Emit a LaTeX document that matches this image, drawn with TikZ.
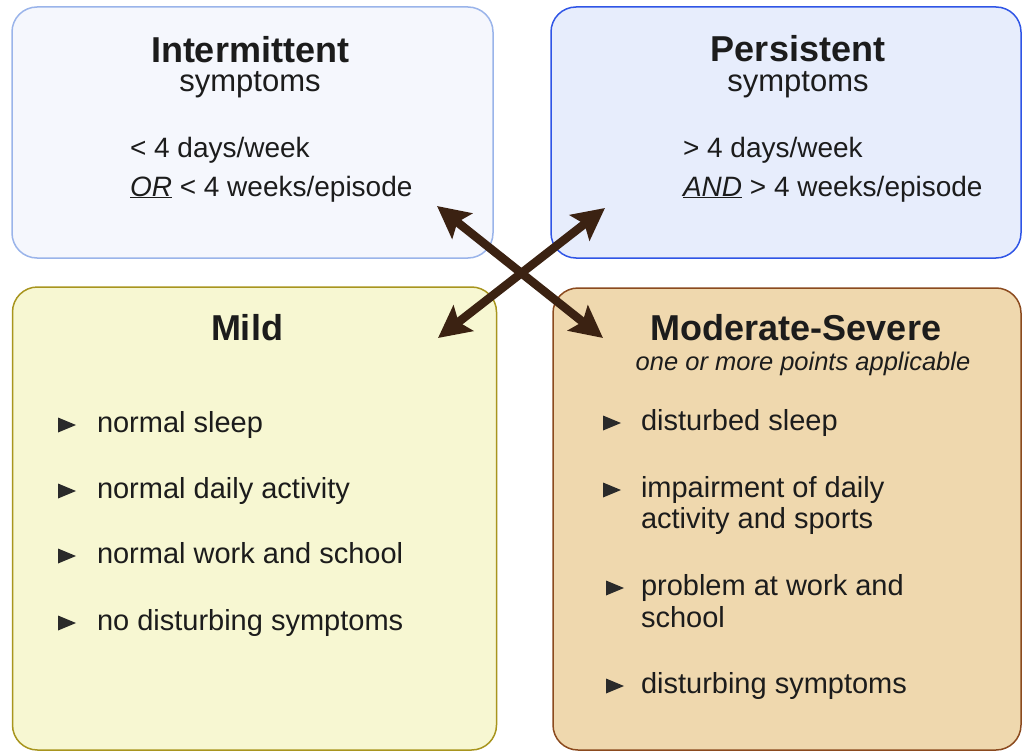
\documentclass[tikz,border=0pt]{standalone}
\usepackage{fontspec}
\setmainfont{Liberation Sans}
\usetikzlibrary{arrows.meta}

\definecolor{intfill}{HTML}{F5F7FD}
\definecolor{intline}{HTML}{9AB4EA}
\definecolor{perfill}{HTML}{E7EDFC}
\definecolor{perline}{HTML}{2F55E6}
\definecolor{mildfill}{HTML}{F7F7D2}
\definecolor{mildline}{HTML}{A8951E}
\definecolor{sevfill}{HTML}{EFD8AE}
\definecolor{sevline}{HTML}{8B4A1E}
\definecolor{arrowc}{HTML}{3B2212}
\definecolor{inkc}{HTML}{1C1C1C}
\definecolor{bulc}{HTML}{2A2A2A}

% small right-pointing bullet triangle centred at (#1,#2)
\newcommand\tribul[2]{\fill[bulc] (#1-8,#2-7.5) -- (#1+10,#2) -- (#1-8,#2+7.5) -- cycle;}

\begin{document}
\begin{tikzpicture}[x=1pt,y=-1pt,
  panel/.style={draw, line width=1.5pt, rounded corners=25pt, inner sep=0pt, outer sep=0pt},
  txt/.style={inner sep=0pt, outer sep=0pt, text=inkc},
  title/.style={txt, anchor=base, font=\fontsize{36}{40}\selectfont\bfseries},
  sub/.style={txt, anchor=base, font=\fontsize{31}{36}\selectfont},
  crit/.style={txt, anchor=base west, font=\fontsize{28}{32}\selectfont},
  item/.style={txt, anchor=base west, font=\fontsize{29}{33}\selectfont},
  dblarrow/.style={draw=arrowc, line width=8.5pt,
    {Stealth[length=32pt,width=32pt,inset=6pt]}-{Stealth[length=32pt,width=32pt,inset=6pt]}}
]
\useasboundingbox (0,0) rectangle (1023,752);

% four panels
\node[panel, fill=intfill, draw=intline, minimum width=481pt, minimum height=251pt] (intbox) at (252.5,132.5) {};
\node[panel, fill=perfill, draw=perline, minimum width=470pt, minimum height=251pt] (perbox) at (786,132.5) {};
\node[panel, fill=mildfill, draw=mildline, minimum width=484pt, minimum height=463pt] (mildbox) at (254.5,518.5) {};
\node[panel, fill=sevfill, draw=sevline, minimum width=468pt, minimum height=462pt] (sevbox) at (787,519) {};

% intermittent
\node[title] (inttitle) at (250,63) {Intermittent};
\node[sub] (intsub) at (250,92) {symptoms};
\node[crit] (intc1) at (130,157) {< 4 days/week};
\node[crit] (intc2) at (130,196) {\underline{\itshape OR} < 4 weeks/episode};

% persistent
\node[title] (pertitle) at (798,62) {Persistent};
\node[sub] (persub) at (798,92) {symptoms};
\node[crit] (perc1) at (683,157) {> 4 days/week};
\node[crit] (perc2) at (683,196) {\underline{\itshape AND} > 4 weeks/episode};

% mild
\node[title] (mildtitle) at (247,340) {Mild};
\node[item] (m1) at (97,432) {normal sleep};
\node[item] (m2) at (97,498) {normal daily activity};
\node[item] (m3) at (97,563) {normal work and school};
\node[item] (m4) at (97,630) {no disturbing symptoms};
\tribul{66}{425}
\tribul{66}{491}
\tribul{66}{556}
\tribul{66}{623}

% moderate-severe
\node[title] (sevtitle) at (796,340) {Moderate-Severe};
\node[txt, anchor=base, font=\fontsize{25.5}{30}\selectfont\itshape] (sevsub) at (803,370) {one or more points applicable};
\node[item] (s1) at (641,430) {disturbed sleep};
\node[item] (s2a) at (641,497) {impairment of daily};
\node[item] (s2b) at (641,528) {activity and sports};
\node[item] (s3a) at (641,595) {problem at work and};
\node[item] (s3b) at (641,627) {school};
\node[item] (s4) at (641,693) {disturbing symptoms};
\tribul{611}{423}
\tribul{611}{490}
\tribul{614}{588}
\tribul{614}{686}

% crossing double arrows
\coordinate (tipint) at (437,206);
\coordinate (tipper) at (605,208);
\coordinate (tipmild) at (438,338);
\coordinate (tipsev) at (603,338);
\draw[dblarrow] (tipint) -- (tipsev);
\draw[dblarrow] (tipmild) -- (tipper);
\end{tikzpicture}
\end{document}
